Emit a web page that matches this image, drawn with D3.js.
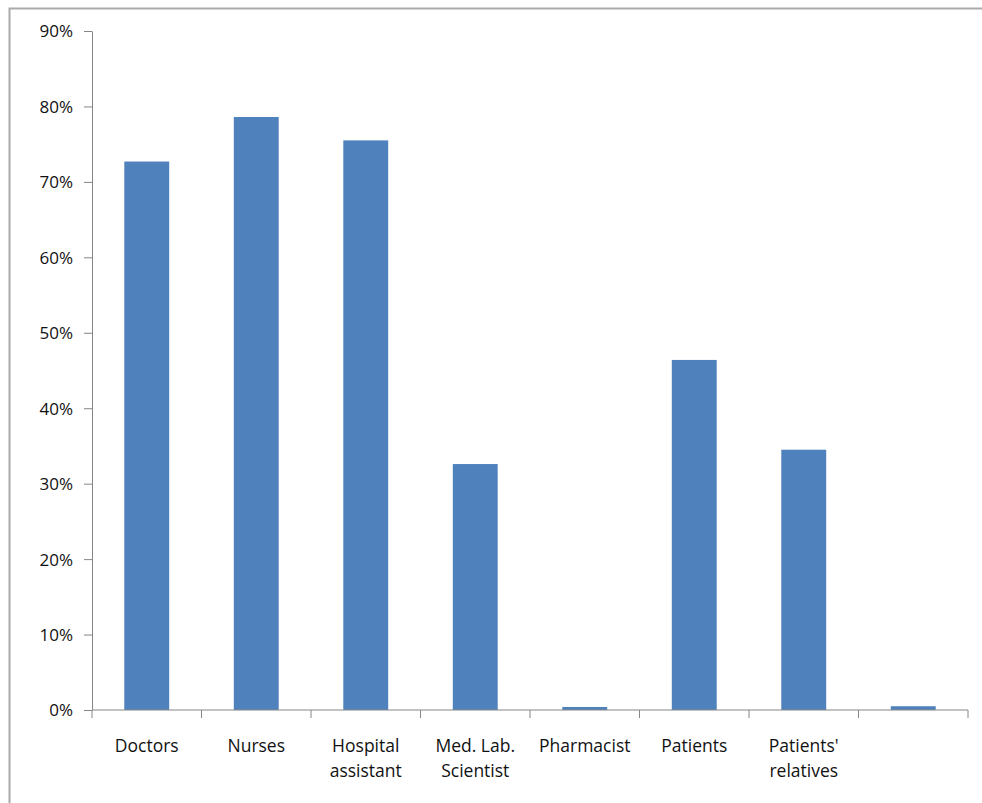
<!DOCTYPE html>
<html>
<head>
<meta charset="utf-8">
<script src="https://cdn.jsdelivr.net/npm/d3@7/dist/d3.min.js"></script>
<style>
  html, body { margin: 0; padding: 0; background: #fff; }
  svg { display: block; }
  text { font-family: "Open Sans", "Liberation Sans", sans-serif; fill: #111; }
</style>
</head>
<body>
<svg id="chart" width="982" height="803"></svg>
<script>
// Share of respondents per group
const categories = ["Doctors", "Nurses", "Hospital assistant", "Med. Lab. Scientist", "Pharmacist", "Patients", "Patients' relatives", ""];
const categoryLines = [["Doctors"], ["Nurses"], ["Hospital", "assistant"], ["Med. Lab.", "Scientist"], ["Pharmacist"], ["Patients"], ["Patients'", "relatives"], [""]];
const values = [0.727, 0.786, 0.755, 0.326, 0.004, 0.464, 0.345, 0.005];
const yTicks = [0, 0.1, 0.2, 0.3, 0.4, 0.5, 0.6, 0.7, 0.8, 0.9];

const svg = d3.select("#chart");
const margin = { left: 92, right: 14, top: 31, bottom: 93 };
const W = 982, H = 803;

// outer chart frame
svg.append("rect")
  .attr("x", 9.5).attr("y", 8.5)
  .attr("width", 1000).attr("height", 1000)
  .attr("fill", "none").attr("stroke", "#aaaaaa").attr("stroke-width", 2);

const x = d3.scaleBand()
  .domain(categories.map((d, i) => i))
  .range([margin.left, W - margin.right])
  .paddingInner(0.59).paddingOuter(0.295);

const y = d3.scaleLinear().domain([0, 0.9]).range([H - margin.bottom, margin.top]);

// bars
svg.append("g").selectAll("rect")
  .data(values)
  .join("rect")
  .attr("x", (d, i) => x(i))
  .attr("y", d => y(d))
  .attr("width", x.bandwidth())
  .attr("height", d => y(0) - y(d))
  .attr("fill", "#4f81bd");

// y axis
const yAxis = svg.append("g")
  .attr("transform", `translate(${margin.left},0)`)
  .call(d3.axisLeft(y).tickValues(yTicks).tickFormat(d3.format(".0%")).tickSize(8).tickSizeOuter(0).tickPadding(11));
yAxis.selectAll("path, line").attr("stroke", "#868686");
yAxis.selectAll("text").style("font-size", "17px").attr("fill", "#111").attr("dy", "0.35em");

// x axis with ticks at category boundaries
const bounds = d3.range(categories.length + 1).map(i => margin.left + i * (W - margin.right - margin.left) / categories.length);
const xAxis = svg.append("g").attr("transform", `translate(0,${y(0)})`);
xAxis.append("line")
  .attr("x1", margin.left).attr("x2", W - margin.right)
  .attr("stroke", "#868686");
xAxis.selectAll("line.tick")
  .data(bounds)
  .join("line")
  .attr("class", "tick")
  .attr("x1", d => d).attr("x2", d => d)
  .attr("y1", 0).attr("y2", 8)
  .attr("stroke", "#868686");

// category labels
const labels = svg.append("g").selectAll("text")
  .data(categoryLines)
  .join("text")
  .attr("text-anchor", "middle")
  .style("font-size", "17.5px")
  .attr("transform", (d, i) => `translate(${x(i) + x.bandwidth() / 2},${y(0) + 42})`);
labels.selectAll("tspan")
  .data(d => d)
  .join("tspan")
  .attr("x", 0)
  .attr("dy", (d, j) => j === 0 ? 0 : 25)
  .text(d => d);
</script>
</body>
</html>
